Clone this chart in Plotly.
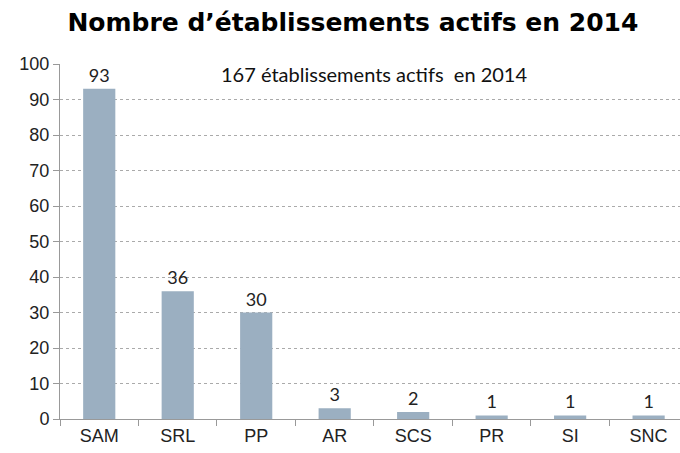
import plotly.graph_objects as go

categories = ["SAM", "SRL", "PP", "AR", "SCS", "PR", "SI", "SNC"]
values = [93, 36, 30, 3, 2, 1, 1, 1]
y_ticks = [0, 10, 20, 30, 40, 50, 60, 70, 80, 90, 100]

fig = go.Figure()
fig.add_trace(go.Bar(
    x=list(range(len(categories))), y=values,
    marker=dict(color="#9bafc1", line=dict(width=0)),
    width=0.41,
    text=[str(v) for v in values], textposition="outside",
    textfont=dict(family="Lato, Open Sans, sans-serif", size=18, color="#222"),
    cliponaxis=False,
))

fig.update_layout(
    width=680, height=453,
    margin=dict(l=60, r=0, t=64, b=34, autoexpand=False),
    paper_bgcolor="white", plot_bgcolor="white",
    showlegend=False,
    title=dict(text="<b>Nombre d’établissements actifs en 2014</b>",
               x=0.519, xanchor="center", y=0.951, yanchor="middle",
               font=dict(family="DejaVu Sans, sans-serif", size=25, color="black")),
    annotations=[dict(text="167 établissements actifs  en 2014", x=3.5, y=97.2,
                      xref="x", yref="y", showarrow=False,
                      font=dict(family="Lato, Open Sans, sans-serif", size=20, color="#111"))],
)

fig.update_xaxes(
    range=[-0.5, 7.4], tickmode="array",
    tickvals=list(range(len(categories))), ticktext=categories,
    showgrid=False, showline=True, linecolor="#999", linewidth=1,
    ticks="", tickfont=dict(family="Liberation Sans, Arial, sans-serif", size=18, color="#222"),
    minor=dict(tickmode="array", tickvals=[i + 0.5 for i in range(-1, 8)],
               ticks="outside", ticklen=6, tickcolor="#999", showgrid=False),
    zeroline=False,
)
fig.update_yaxes(
    range=[0, 100], tickmode="array", tickvals=y_ticks,
    showgrid=True, gridcolor="#aaa", griddash="dot", gridwidth=1,
    showline=True, linecolor="#999", linewidth=1,
    ticks="outside", ticklen=6, tickcolor="#999",
    tickfont=dict(family="Liberation Sans, Arial, sans-serif", size=18, color="#222"),
    zeroline=False,
)

fig.write_html("out.html", config={"displayModeBar": False},
               post_script="document.body.style.margin='0';")
